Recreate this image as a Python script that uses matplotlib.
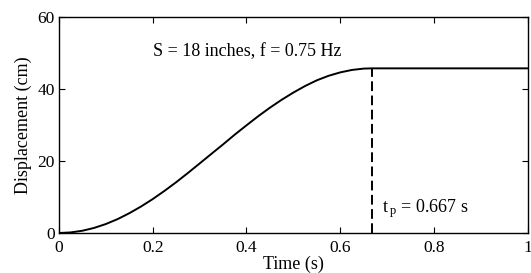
import matplotlib
matplotlib.use("Agg")
import matplotlib.pyplot as plt

plt.rcParams['font.family'] = ['Liberation Serif', 'DejaVu Serif']
plt.rcParams['mathtext.fontset'] = 'custom'
plt.rcParams['mathtext.rm'] = 'Liberation Serif'

time_s = [0.0, 0.025, 0.05, 0.075, 0.1, 0.125, 0.15, 0.175, 0.2, 0.225, 0.25,
          0.275, 0.3, 0.325, 0.35, 0.375, 0.4, 0.425, 0.45, 0.475, 0.5, 0.525,
          0.55, 0.575, 0.6, 0.625, 0.65, 0.667, 1.0]
displacement_cm = [0.0, 0.16, 0.63, 1.41, 2.49, 3.85, 5.49, 7.35, 9.42, 11.69, 14.1,
                   16.66, 19.3, 21.96, 24.6, 27.32, 29.9, 32.43, 34.8, 36.99, 39.0, 40.82,
                   42.4, 43.65, 44.6, 45.28, 45.65, 45.72, 45.72]
t_peak = 0.667
peak_disp = 45.72

xticks = [0, 0.2, 0.4, 0.6, 0.8, 1]
xticklabels = ['0', '0.2', '0.4', '0.6', '0.8', '1']
yticks = [0, 20, 40, 60]

fig = plt.figure(figsize=(5.31, 2.73), dpi=100)
ax = fig.add_axes([0.111, 0.1465, 0.883, 0.7915])
ax.plot(time_s, displacement_cm, color='black', lw=1.4)
ax.plot([t_peak, t_peak], [0, peak_disp], color='black', lw=1.4, dashes=(5, 2.3))

ax.set_xlim(0, 1)
ax.set_ylim(0, 60)
ax.set_xticks(xticks)
ax.set_xticklabels(xticklabels)
ax.set_yticks(yticks)
ax.tick_params(direction='in', top=True, right=True, labelsize=12.5, length=4)
ax.tick_params(axis='x', pad=5)
ax.tick_params(axis='y', pad=3)
for s in ax.spines.values():
    s.set_linewidth(1.0)

ax.set_xlabel('Time (s)', fontsize=13, labelpad=0)
ax.set_ylabel('Displacement (cm)', fontsize=13, labelpad=4)

ax.text(0.201, 50.5, 'S = 18 inches, f = 0.75 Hz', fontsize=13, ha='left', va='center')
ax.text(0.69, 6.8, r'$\mathregular{t_{\,p}}$ = 0.667 s', fontsize=13, ha='left', va='center')

fig.savefig('out.png', dpi=100)
